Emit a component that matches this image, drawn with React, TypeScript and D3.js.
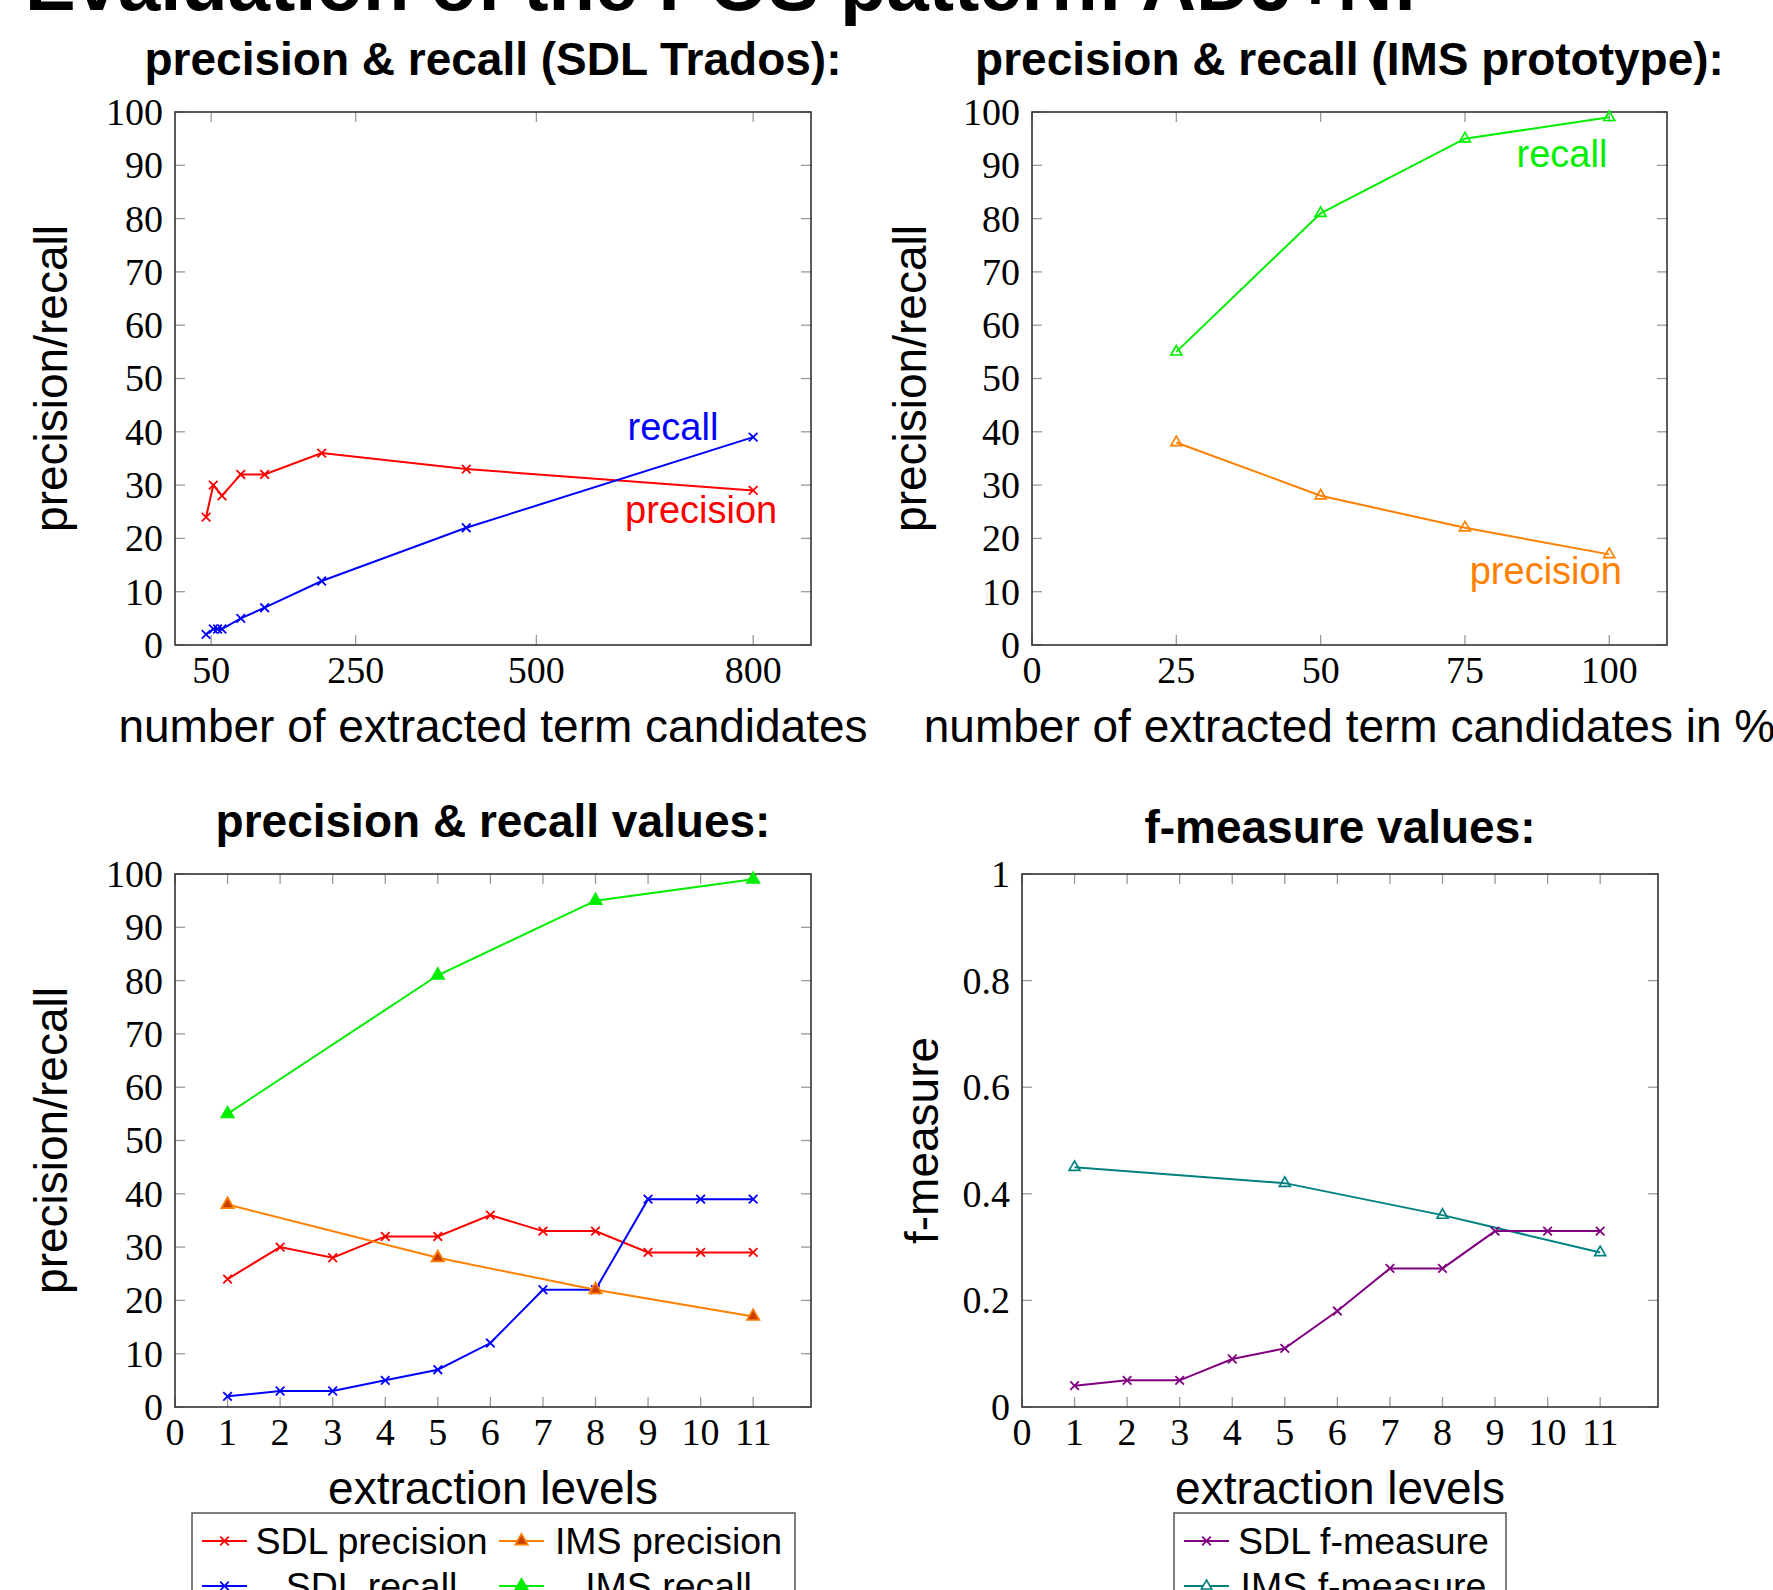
import React from 'react';
import * as d3 from 'd3';

// top-left: SDL Trados, x = number of extracted term candidates
const sdlCandPrecX = [43, 53, 65, 91, 124, 203, 403, 800];
const sdlCandPrecision = [24, 30, 28, 32, 32, 36, 33, 29];
const sdlCandRecX = [43, 53, 59, 65, 91, 124, 203, 403, 800];
const sdlCandRecall = [2, 3, 3, 3, 5, 7, 12, 22, 39];
const candTicks = [50, 250, 500, 800];

// top-right: IMS prototype, x = share of candidates in %
const imsPercent = [25, 50, 75, 100];
const imsPctRecall = [55, 81, 95, 99];
const imsPctPrecision = [38, 28, 22, 17];
const pctTicks = [0, 25, 50, 75, 100];

// bottom: extraction levels
const levels = [1, 2, 3, 4, 5, 6, 7, 8, 9, 10, 11];
const levelTicks = [0, 1, 2, 3, 4, 5, 6, 7, 8, 9, 10, 11];
const sdlPrecision = [24, 30, 28, 32, 32, 36, 33, 33, 29, 29, 29];
const sdlRecall = [2, 3, 3, 5, 7, 12, 22, 22, 39, 39, 39];
const imsLevels = [1, 5, 8, 11];
const imsPrecision = [38, 28, 22, 17];
const imsRecall = [55, 81, 95, 99];
const sdlFMeasure = [0.04, 0.05, 0.05, 0.09, 0.11, 0.18, 0.26, 0.26, 0.33, 0.33, 0.33];
const imsFMeasure = [0.45, 0.42, 0.36, 0.29];

const pctYTicks = [0, 10, 20, 30, 40, 50, 60, 70, 80, 90, 100];
const fYTicks = [0, 0.2, 0.4, 0.6, 0.8, 1];

const SANS = '"Liberation Sans", Arial, Helvetica, sans-serif';
const SERIF = '"Liberation Serif", "Times New Roman", serif';

const RED = '#ff0000';
const BLUE = '#0000ff';
const GREEN = '#00ee00';
const ORANGE = '#ff8000';
const ORANGE_FILL = '#c83c00';
const PURPLE = '#800080';
const TEAL = '#008080';

type Mark = 'cross' | 'tri' | 'triFill';

interface Series {
  xs: number[];
  ys: number[];
  color: string;
  mark: Mark;
  fill?: string;
}

interface Note {
  text: string;
  x: number;
  y: number;
  color: string;
}

function Marker({ cx, cy, mark, color, fill }: { cx: number; cy: number; mark: Mark; color: string; fill?: string }) {
  if (mark === 'cross') {
    const s = 4.3;
    return (
      <path
        d={`M${cx - s},${cy - s}L${cx + s},${cy + s}M${cx - s},${cy + s}L${cx + s},${cy - s}`}
        stroke={color}
        strokeWidth={1.8}
        fill="none"
      />
    );
  }
  const r = mark === 'triFill' ? 7.2 : 6.3;
  const d = `M${cx},${cy - r}L${cx + r * 0.866},${cy + r * 0.5}L${cx - r * 0.866},${cy + r * 0.5}Z`;
  return (
    <path
      d={d}
      stroke={color}
      strokeWidth={1.7}
      fill={mark === 'triFill' ? fill ?? color : 'none'}
    />
  );
}

interface PanelProps {
  left: number;
  top: number;
  width: number;
  height: number;
  xDomain: [number, number];
  yDomain: [number, number];
  xTicks: number[];
  yTicks: number[];
  series: Series[];
  title: string;
  titleY: number;
  xLabel: string;
  yLabel: string;
  yLabelX: number;
  notes?: Note[];
}

function Panel(p: PanelProps) {
  const x = d3.scaleLinear().domain(p.xDomain).range([p.left, p.left + p.width]);
  const y = d3.scaleLinear().domain(p.yDomain).range([p.top + p.height, p.top]);
  const line = d3
    .line<[number, number]>()
    .x(d => x(d[0]))
    .y(d => y(d[1]));
  const bottom = p.top + p.height;
  const right = p.left + p.width;
  const tl = 10;
  const cx = p.left + p.width / 2;
  const cy = p.top + p.height / 2;

  return (
    <g>
      <text x={cx} y={p.titleY} textAnchor="middle" fontFamily={SANS} fontWeight="bold" fontSize={46}>
        {p.title}
      </text>

      {/* ticks, mirrored on all four sides */}
      <g stroke="#9a9a9a" strokeWidth={1.3}>
        {p.xTicks.map(t => (
          <g key={'x' + t}>
            <line x1={x(t)} x2={x(t)} y1={bottom} y2={bottom - tl} />
            <line x1={x(t)} x2={x(t)} y1={p.top} y2={p.top + tl} />
          </g>
        ))}
        {p.yTicks.map(t => (
          <g key={'y' + t}>
            <line x1={p.left} x2={p.left + tl} y1={y(t)} y2={y(t)} />
            <line x1={right} x2={right - tl} y1={y(t)} y2={y(t)} />
          </g>
        ))}
      </g>

      <rect x={p.left} y={p.top} width={p.width} height={p.height} fill="none" stroke="#333" strokeWidth={1.6} />

      {p.xTicks.map(t => (
        <text key={'xl' + t} x={x(t)} y={bottom + 38} textAnchor="middle" fontFamily={SERIF} fontSize={38}>
          {t}
        </text>
      ))}
      {p.yTicks.map(t => (
        <text
          key={'yl' + t}
          x={p.left - 12}
          y={y(t)}
          dy="0.34em"
          textAnchor="end"
          fontFamily={SERIF}
          fontSize={38}
        >
          {t}
        </text>
      ))}

      <text x={cx} y={bottom + 97} textAnchor="middle" fontFamily={SANS} fontSize={46}>
        {p.xLabel}
      </text>
      <text
        transform={`translate(${p.yLabelX},${cy}) rotate(-90)`}
        textAnchor="middle"
        fontFamily={SANS}
        fontSize={46}
      >
        {p.yLabel}
      </text>

      {p.series.map((s, i) => {
        const pts = s.xs.map((v, j) => [v, s.ys[j]] as [number, number]);
        return (
          <g key={'s' + i}>
            <path d={line(pts) ?? ''} fill="none" stroke={s.color} strokeWidth={2} />
            {pts.map((d, j) => (
              <Marker key={j} cx={x(d[0])} cy={y(d[1])} mark={s.mark} color={s.color} fill={s.fill} />
            ))}
          </g>
        );
      })}

      {(p.notes ?? []).map(n => (
        <text
          key={n.text}
          x={x(n.x)}
          y={y(n.y)}
          textAnchor="middle"
          fontFamily={SANS}
          fontSize={38}
          fill={n.color}
        >
          {n.text}
        </text>
      ))}
    </g>
  );
}

interface LegendItem {
  label: string;
  color: string;
  mark: Mark;
  fill?: string;
}

function Legend({
  left,
  top,
  width,
  columns,
  colWidth,
  textWidth,
  items,
}: {
  left: number;
  top: number;
  width: number;
  columns: number;
  colWidth: number;
  textWidth: number;
  items: LegendItem[];
}) {
  const rowH = 45;
  const rows = Math.ceil(items.length / columns);
  return (
    <g>
      <rect
        x={left}
        y={top}
        width={width}
        height={rows * rowH + 20}
        fill="white"
        stroke="#555"
        strokeWidth={1.5}
      />
      {items.map((it, i) => {
        const col = i % columns;
        const row = Math.floor(i / columns);
        const x0 = left + 10 + col * colWidth;
        const yy = top + 28 + row * rowH;
        const mk = it.mark === 'cross' ? 'cross' : 'triFill';
        return (
          <g key={it.label}>
            <line x1={x0} x2={x0 + 45} y1={yy} y2={yy} stroke={it.color} strokeWidth={2} />
            <g transform={`translate(${x0 + 22.5},${yy})`}>
              {it.mark === 'tri' ? (
                <path d="M0,-6L5.2,3L-5.2,3Z" stroke={it.color} strokeWidth={1.6} fill="white" />
              ) : (
                <Marker cx={0} cy={0} mark={mk} color={it.color} fill={it.fill} />
              )}
            </g>
            <text
              x={x0 + 52 + textWidth / 2}
              y={yy}
              dy="0.35em"
              textAnchor="middle"
              fontFamily={SANS}
              fontSize={37.5}
            >
              {it.label}
            </text>
          </g>
        );
      })}
    </g>
  );
}

export default function App() {
  return (
    <svg
      width={1773}
      height={1590}
      style={{ position: 'absolute', left: 0, top: 0, background: 'white' }}
    >
      <rect width={1773} height={1590} fill="white" />
      <text x={25} y={10} fontFamily={SANS} fontWeight="bold" fontSize={76}>
        Evaluation of the POS pattern: ADJ+N:
      </text>

      <Panel
        left={175}
        top={112}
        width={636}
        height={533}
        xDomain={[0, 880]}
        yDomain={[0, 100]}
        xTicks={candTicks}
        yTicks={pctYTicks}
        series={[
          { xs: sdlCandPrecX, ys: sdlCandPrecision, color: RED, mark: 'cross' },
          { xs: sdlCandRecX, ys: sdlCandRecall, color: BLUE, mark: 'cross' },
        ]}
        title="precision & recall (SDL Trados):"
        titleY={75}
        xLabel="number of extracted term candidates"
        yLabel="precision/recall"
        yLabelX={67}
        notes={[
          { text: 'recall', x: 689, y: 38.4, color: BLUE },
          { text: 'precision', x: 728, y: 22.9, color: RED },
        ]}
      />

      <Panel
        left={1032}
        top={112}
        width={635}
        height={533}
        xDomain={[0, 110]}
        yDomain={[0, 100]}
        xTicks={pctTicks}
        yTicks={pctYTicks}
        series={[
          { xs: imsPercent, ys: imsPctRecall, color: GREEN, mark: 'tri' },
          { xs: imsPercent, ys: imsPctPrecision, color: ORANGE, mark: 'tri' },
        ]}
        title="precision & recall (IMS prototype):"
        titleY={75}
        xLabel="number of extracted term candidates in %"
        yLabel="precision/recall"
        yLabelX={926}
        notes={[
          { text: 'recall', x: 91.8, y: 89.7, color: GREEN },
          { text: 'precision', x: 89.0, y: 11.4, color: ORANGE },
        ]}
      />

      <Panel
        left={175}
        top={874}
        width={636}
        height={533}
        xDomain={[0, 12.1]}
        yDomain={[0, 100]}
        xTicks={levelTicks}
        yTicks={pctYTicks}
        series={[
          { xs: levels, ys: sdlPrecision, color: RED, mark: 'cross' },
          { xs: levels, ys: sdlRecall, color: BLUE, mark: 'cross' },
          { xs: imsLevels, ys: imsPrecision, color: ORANGE, mark: 'triFill', fill: ORANGE_FILL },
          { xs: imsLevels, ys: imsRecall, color: GREEN, mark: 'triFill' },
        ]}
        title="precision & recall values:"
        titleY={837}
        xLabel="extraction levels"
        yLabel="precision/recall"
        yLabelX={67}
      />

      <Panel
        left={1022}
        top={874}
        width={636}
        height={533}
        xDomain={[0, 12.1]}
        yDomain={[0, 1]}
        xTicks={levelTicks}
        yTicks={fYTicks}
        series={[
          { xs: imsLevels, ys: imsFMeasure, color: TEAL, mark: 'tri' },
          { xs: levels, ys: sdlFMeasure, color: PURPLE, mark: 'cross' },
        ]}
        title="f-measure values:"
        titleY={843}
        xLabel="extraction levels"
        yLabel="f-measure"
        yLabelX={938}
      />

      <Legend
        left={192}
        top={1513}
        width={603}
        columns={2}
        colWidth={297}
        textWidth={235}
        items={[
          { label: 'SDL precision', color: RED, mark: 'cross' },
          { label: 'IMS precision', color: ORANGE, mark: 'triFill', fill: ORANGE_FILL },
          { label: 'SDL recall', color: BLUE, mark: 'cross' },
          { label: 'IMS recall', color: GREEN, mark: 'triFill' },
        ]}
      />
      <Legend
        left={1174}
        top={1513}
        width={332}
        columns={1}
        colWidth={320}
        textWidth={255}
        items={[
          { label: 'SDL f-measure', color: PURPLE, mark: 'cross' },
          { label: 'IMS f-measure', color: TEAL, mark: 'tri' },
        ]}
      />
    </svg>
  );
}
